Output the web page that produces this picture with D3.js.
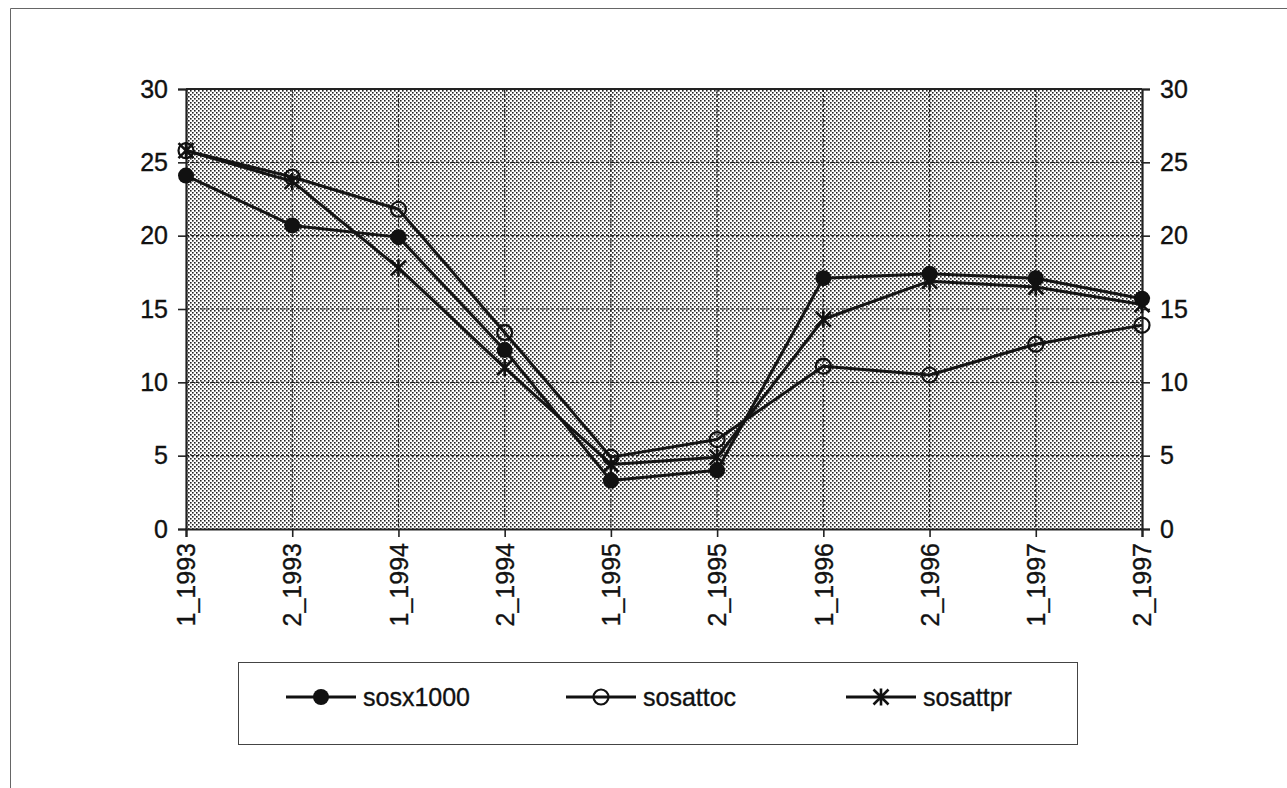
<!DOCTYPE html>
<html><head><meta charset="utf-8">
<script src="https://cdn.jsdelivr.net/npm/d3@7"></script>
<style>body{margin:0;background:#fff;} svg{display:block;} text{font-family:"Liberation Sans",Arial,sans-serif;fill:#111;}</style>
</head><body>
<svg id="c" width="1287" height="788"></svg>
<script>
const categories = ["1_1993","2_1993","1_1994","2_1994","1_1995","2_1995","1_1996","2_1996","1_1997","2_1997"];
const sosx1000 = [24.1, 20.7, 19.9, 12.2, 3.3, 4.0, 17.1, 17.4, 17.1, 15.7];
const sosattoc = [25.8, 24.0, 21.8, 13.4, 4.9, 6.1, 11.1, 10.5, 12.6, 13.9];
const sosattpr = [25.8, 23.7, 17.8, 11.0, 4.4, 4.9, 14.3, 16.9, 16.5, 15.3];
const seriesNames = ["sosx1000","sosattoc","sosattpr"];
const yTicks = [0,5,10,15,20,25,30];

const svg = d3.select("#c");
const L=186, R=1142, T=89, B=529;
const x = d3.scalePoint().domain(categories).range([L,R]);
const y = d3.scaleLinear().domain([0,30]).range([B,T]);

// outer frame
svg.append("path").attr("d","M10.5,788 V8.5 H1287").attr("fill","none").attr("stroke","#666").attr("stroke-width",1);

// dotted pattern
const defs = svg.append("defs");
const pat = defs.append("pattern").attr("id","dots").attr("patternUnits","userSpaceOnUse").attr("width",4).attr("height",4);
pat.append("rect").attr("width",4).attr("height",4).attr("fill","#fff");
pat.append("rect").attr("x",0).attr("y",0).attr("width",1.6).attr("height",1.6).attr("fill","#222");
pat.append("rect").attr("x",2).attr("y",2).attr("width",1.6).attr("height",1.6).attr("fill","#222");
svg.append("rect").attr("x",L).attr("y",T).attr("width",R-L).attr("height",B-T).attr("fill","url(#dots)");

// gridlines
svg.append("g").selectAll("line").data(yTicks.filter(d=>d>0&&d<30)).join("line")
  .attr("x1",L).attr("x2",R).attr("y1",d=>y(d)).attr("y2",d=>y(d))
  .attr("stroke","#222").attr("stroke-width",1.2).attr("stroke-dasharray","3,2");
svg.append("g").selectAll("line").data(categories.slice(1,-1)).join("line")
  .attr("x1",d=>x(d)).attr("x2",d=>x(d)).attr("y1",T).attr("y2",B)
  .attr("stroke","#222").attr("stroke-width",1.2).attr("stroke-dasharray","3,2");

// frame of plot
svg.append("line").attr("x1",L).attr("x2",R).attr("y1",T).attr("y2",T).attr("stroke","#222").attr("stroke-width",2);

// axes
const fs = "25px";
const yl = svg.append("g").attr("transform",`translate(${L},0)`).call(d3.axisLeft(y).tickValues(yTicks).tickSize(8).tickPadding(10));
const yr = svg.append("g").attr("transform",`translate(${R},0)`).call(d3.axisRight(y).tickValues(yTicks).tickSize(8).tickPadding(10));
const xa = svg.append("g").attr("transform",`translate(0,${B})`).call(d3.axisBottom(x).tickSize(8).tickPadding(10));
[yl,yr,xa].forEach(g=>{
  g.select(".domain").attr("stroke","#222").attr("stroke-width",2.2);
  g.selectAll(".tick line").attr("stroke","#222").attr("stroke-width",1.6);
  g.selectAll("text").style("font-size",fs).attr("fill","#111").attr("stroke","#111").attr("stroke-width",0.35).style("font-family","'Liberation Sans',Arial,sans-serif");
});
xa.selectAll(".tick text").attr("transform","rotate(-90)").attr("text-anchor","end").attr("x",-14).attr("y",0).attr("dy","0.35em");

// series
const data = [sosx1000, sosattoc, sosattpr];
const line = d3.line().x((d,i)=>x(categories[i])).y(d=>y(d));
const g = svg.append("g");
data.forEach(vals=>{
  g.append("path").datum(vals).attr("d",line).attr("fill","none").attr("stroke","#141414").attr("stroke-width",3).attr("stroke-linejoin","round");
});
function marker(sel, type, cx, cy){
  if(type===0) sel.append("circle").attr("cx",cx).attr("cy",cy).attr("r",8).attr("fill","#111");
  else if(type===1) sel.append("circle").attr("cx",cx).attr("cy",cy).attr("r",7.5).attr("fill","none").attr("stroke","#111").attr("stroke-width",2.2);
  else {
    const s=7.5;
    sel.append("path").attr("d",`M${cx-s},${cy-s}L${cx+s},${cy+s}M${cx-s},${cy+s}L${cx+s},${cy-s}M${cx},${cy-s-1}L${cx},${cy+s+1}`)
      .attr("stroke","#111").attr("stroke-width",2.6).attr("fill","none");
  }
}
data.forEach((vals,si)=>{
  vals.forEach((v,i)=>marker(g, si, x(categories[i]), y(v)));
});

// legend
const lg = svg.append("g");
lg.append("rect").attr("x",238.5).attr("y",662.5).attr("width",839).attr("height",82).attr("fill","#fff").attr("stroke","#444").attr("stroke-width",1);
seriesNames.forEach((n,i)=>{
  const x0 = 286 + i*280, cy = 697;
  lg.append("line").attr("x1",x0).attr("x2",x0+70).attr("y1",cy).attr("y2",cy).attr("stroke","#111").attr("stroke-width",3);
  marker(lg, i, x0+35, cy);
  lg.append("text").attr("x",x0+77).attr("y",cy).attr("dy","0.35em").style("font-size","25px").attr("stroke","#111").attr("stroke-width",0.35).text(n);
});
</script>
</body></html>
